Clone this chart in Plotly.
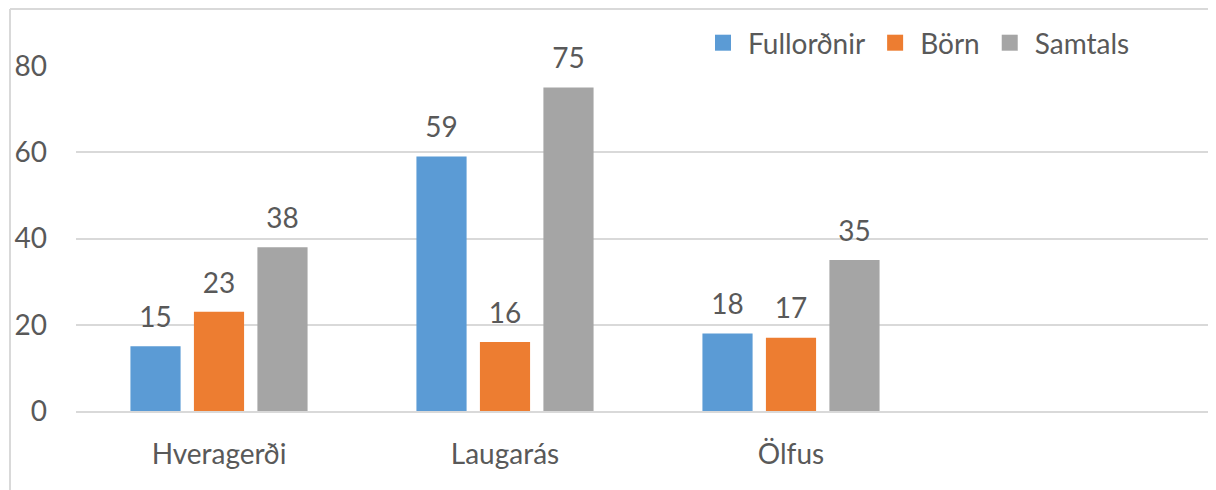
import plotly.graph_objects as go

# Data
places = ['Hveragerði', 'Laugarás', 'Ölfus', ' ']
fullordnir = [15, 59, 18, None]
born = [23, 16, 17, None]
samtals = [38, 75, 35, None]

series = [
    ('Fullorðnir', fullordnir, '#5B9BD5'),
    ('Börn', born, '#ED7D31'),
    ('Samtals', samtals, '#A5A5A5'),
]

font_name = 'Lato, Noto Sans, sans-serif'
txt_color = '#595959'
grid_color = '#D9D9D9'
gap = 0.334
fsize = 28

fig = go.Figure()
for name, vals, col in series:
    fig.add_trace(go.Bar(
        x=places, y=vals, name=name, marker_color=col, marker_line_width=0,
        offsetgroup=name, legendgroup=name, showlegend=False,
    ))
# data labels, aligned with the bars through scattermode='group'
for name, vals, col in series:
    fig.add_trace(go.Scatter(
        x=places, y=vals, mode='markers+text', offsetgroup=name,
        text=[str(v) if v is not None else '' for v in vals],
        textposition='top center', cliponaxis=False, showlegend=False,
        marker=dict(size=18, opacity=0), hoverinfo='skip',
        textfont=dict(size=fsize, color=txt_color, family=font_name),
    ))
# legend entries with bigger square swatches
for name, vals, col in series:
    fig.add_trace(go.Scatter(
        x=[None], y=[None], mode='markers', name=name, offsetgroup=name,
        legendgroup=name,
        marker=dict(symbol='square', size=16, color=col, line_width=0),
    ))

# page body adds an 8px offset, so the figure is laid out 8px up/left
fig.update_layout(
    width=1216, height=490,
    margin=dict(l=68, r=4, t=58, b=87, autoexpand=False),
    paper_bgcolor='white', plot_bgcolor='white',
    font=dict(family=font_name, size=fsize, color=txt_color),
    barmode='group', bargap=gap, bargroupgap=0.21,
    scattermode='group', scattergap=gap,
    showlegend=True,
    legend=dict(orientation='h', xref='container', yref='container',
                x=690 / 1216, y=1 - 35 / 490, xanchor='left', yanchor='middle',
                font=dict(size=fsize, color=txt_color), itemwidth=40,
                itemsizing='trace',
                traceorder='normal', bgcolor='rgba(0,0,0,0)'),
)
fig.update_yaxes(range=[0, 80], tickvals=[0, 20, 40, 60, 80], showgrid=True,
                 gridcolor=grid_color, gridwidth=1.5, zeroline=False,
                 showline=False, ticks='', ticklabelstandoff=28)
fig.update_xaxes(range=[-0.5, 3.5], showgrid=False, showline=True,
                 linecolor=grid_color, linewidth=1.5, ticks='', ticklabelstandoff=18)

# outer chart border (left and top edges visible)
pw, ph = 1216 - 68 - 4, 490 - 58 - 87
bx = (2 - 68) / pw
by = 1 + (58 - 1) / ph
fig.add_shape(type='line', xref='paper', yref='paper',
              x0=bx, x1=bx, y0=by, y1=-0.3,
              line=dict(color=grid_color, width=2))
fig.add_shape(type='line', xref='paper', yref='paper',
              x0=bx, x1=1.01, y0=by, y1=by,
              line=dict(color=grid_color, width=2))

fig.write_html('out.html')
